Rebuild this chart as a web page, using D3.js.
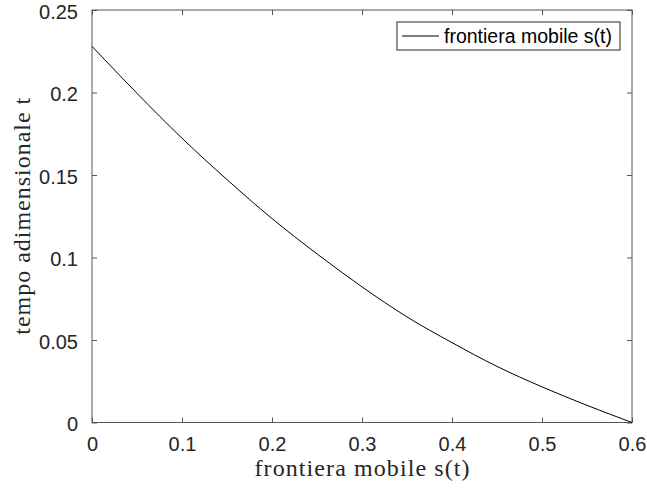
<!DOCTYPE html>
<html>
<head>
<meta charset="utf-8">
<script src="https://cdn.jsdelivr.net/npm/d3@7"></script>
<style>
  html, body { margin: 0; padding: 0; background: #ffffff; }
  svg { display: block; }
</style>
</head>
<body>
<div id="chart"></div>
<script>
// Moving boundary position s and the corresponding dimensionless time t
const sValues = [0, 0.05, 0.1, 0.15, 0.2, 0.25, 0.3, 0.35, 0.4, 0.45, 0.5, 0.55, 0.6];
const tValues = [0.228, 0.1995, 0.1723, 0.1472, 0.1236, 0.1022, 0.0822, 0.0640, 0.0484, 0.0340, 0.0216, 0.0104, 0];
const xTicks = [0, 0.1, 0.2, 0.3, 0.4, 0.5, 0.6];
const yTicks = [0, 0.05, 0.1, 0.15, 0.2, 0.25];
const seriesName = "frontiera mobile s(t)";
const xLabel = "frontiera mobile s(t)";
const yLabel = "tempo adimensionale t";

const width = 647, height = 489;
const box = { left: 92, right: 632, top: 10, bottom: 422.5 };
const axisColor = "#262626";
const lineGray = "#555555";
const tickFont = "'Liberation Sans', Arial, Helvetica, sans-serif";
const labelFont = "'Liberation Serif', 'Times New Roman', serif";

const svg = d3.select("#chart").append("svg")
  .attr("width", width).attr("height", height);

const x = d3.scaleLinear().domain([0, 0.6]).range([box.left, box.right]);
const y = d3.scaleLinear().domain([0, 0.25]).range([box.bottom, box.top]);

const fmt = d => (d === 0 ? "0" : String(+d.toFixed(2)));

// Axes with inward ticks (ticks drawn on all four sides of the box)
function styleAxis(g) {
  g.select(".domain").remove();
  g.selectAll(".tick line").attr("stroke", lineGray).attr("stroke-width", 1);
  g.selectAll(".tick text").attr("fill", axisColor)
    .style("font-family", tickFont).style("font-size", "20px");
}

svg.append("g").attr("transform", `translate(0,${box.bottom})`)
  .call(d3.axisBottom(x).tickValues(xTicks).tickFormat(fmt).tickSizeInner(-5).tickSizeOuter(0).tickPadding(14))
  .call(styleAxis);

svg.append("g").attr("transform", `translate(0,${box.top})`)
  .call(d3.axisTop(x).tickValues(xTicks).tickFormat("").tickSizeInner(-5).tickSizeOuter(0))
  .call(styleAxis);

svg.append("g").attr("transform", `translate(${box.left},0)`)
  .call(d3.axisLeft(y).tickValues(yTicks).tickFormat(fmt).tickSizeInner(-5).tickSizeOuter(0).tickPadding(14))
  .call(styleAxis)
  .selectAll(".tick text").attr("dy", "0.42em");

svg.append("g").attr("transform", `translate(${box.right},0)`)
  .call(d3.axisRight(y).tickValues(yTicks).tickFormat("").tickSizeInner(-5).tickSizeOuter(0))
  .call(styleAxis);

// Axes box
svg.append("rect")
  .attr("x", box.left).attr("y", box.top)
  .attr("width", box.right - box.left).attr("height", box.bottom - box.top)
  .attr("fill", "none").attr("stroke", lineGray).attr("stroke-width", 1);

// Curve
const data = sValues.map((s, i) => ({ s, t: tValues[i] }));
const line = d3.line().x(d => x(d.s)).y(d => y(d.t)).curve(d3.curveMonotoneX);
svg.append("path").datum(data)
  .attr("d", line)
  .attr("fill", "none").attr("stroke", "#000000").attr("stroke-width", 1);

// Axis labels
svg.append("text")
  .attr("x", (box.left + box.right) / 2).attr("y", 476)
  .attr("text-anchor", "middle")
  .attr("textLength", 215).attr("lengthAdjust", "spacing")
  .style("font-family", labelFont).style("font-size", "24px").attr("fill", axisColor)
  .text(xLabel);

svg.append("text")
  .attr("transform", `translate(30,${(box.top + box.bottom) / 2}) rotate(-90)`)
  .attr("text-anchor", "middle")
  .attr("textLength", 237).attr("lengthAdjust", "spacing")
  .style("font-family", labelFont).style("font-size", "24px").attr("fill", axisColor)
  .text(yLabel);

// Legend
const legend = svg.append("g");
legend.append("rect")
  .attr("x", 397).attr("y", 22).attr("width", 223).attr("height", 28)
  .attr("fill", "#ffffff").attr("stroke", axisColor).attr("stroke-width", 1);
legend.append("line")
  .attr("x1", 402).attr("x2", 439).attr("y1", 36).attr("y2", 36)
  .attr("stroke", "#000000").attr("stroke-width", 1);
legend.append("text")
  .attr("x", 444).attr("y", 36).attr("dy", "0.35em")
  .style("font-family", tickFont).style("font-size", "19.5px").attr("fill", "#000000")
  .text(seriesName);
</script>
</body>
</html>
